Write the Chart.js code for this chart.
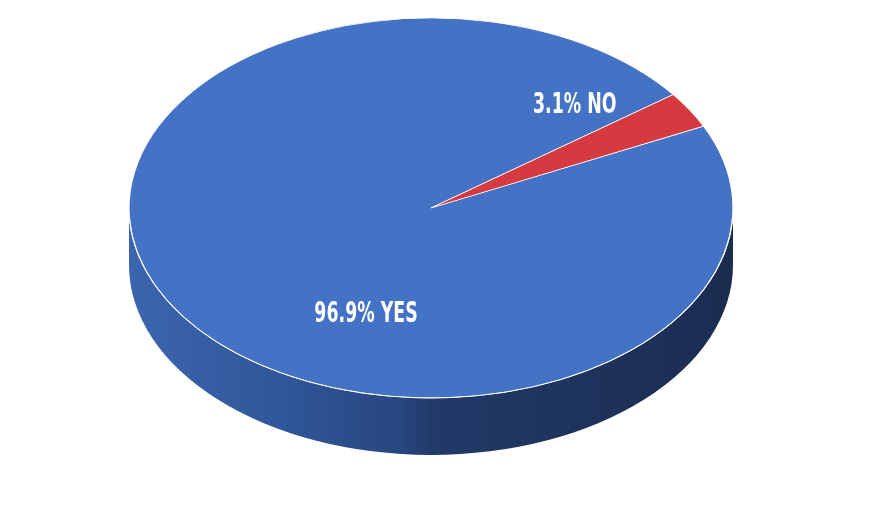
<!DOCTYPE html>
<html>
<head>
<meta charset="utf-8">
<script src="https://cdn.jsdelivr.net/npm/chart.js@4.4.1/dist/chart.umd.min.js"></script>
<style>
  html, body { margin: 0; padding: 0; background: #fff; }
  #wrap { width: 871px; height: 511px; position: relative; }
</style>
</head>
<body>
<div id="wrap"><canvas id="pie"></canvas></div>
<script>
// data
const labels = ['YES', 'NO'];
const values = [96.9, 3.1];
const sliceColors = ['#4472c4', '#d63a41'];

// where the flattened pie sits on the page (ellipse of the top face)
const top3d = { cx: 431, cy: 208, rx: 302, ry: 190, depth: 57 };
// label placement: [angle in degrees, fraction of radius]
const labelSpots = [[111, 0.60], [-48.6, 0.72]];

function pieFrame(chart) {
    const arc = chart.getDatasetMeta(0).data[0];
    return { x: arc.x, y: arc.y, r: arc.outerRadius };
}

const tilt = {
    id: 'tilt',
    beforeDatasetsDraw(chart) {
        const ctx = chart.ctx;
        const t = top3d;
        // side wall
        ctx.save();
        const g = ctx.createLinearGradient(t.cx - t.rx, 0, t.cx + t.rx, 0);
        g.addColorStop(0, '#3b65ae');
        g.addColorStop(0.25, '#30579a');
        g.addColorStop(0.45, '#28467f');
        g.addColorStop(0.5, '#213a68');
        g.addColorStop(1, '#1b2c50');
        ctx.beginPath();
        ctx.moveTo(t.cx - t.rx, t.cy);
        ctx.lineTo(t.cx - t.rx, t.cy + t.depth);
        ctx.ellipse(t.cx, t.cy + t.depth, t.rx, t.ry, 0, Math.PI, 0, true);
        ctx.lineTo(t.cx + t.rx, t.cy);
        ctx.ellipse(t.cx, t.cy, t.rx, t.ry, 0, 0, Math.PI, false);
        ctx.closePath();
        ctx.fillStyle = g;
        ctx.fill();
        ctx.restore();

        // squash the pie into the top face
        const f = pieFrame(chart);
        ctx.save();
        ctx.translate(t.cx, t.cy);
        ctx.scale(t.rx / f.r, t.ry / f.r);
        ctx.translate(-f.x, -f.y);
    },
    afterDatasetsDraw(chart) {
        const ctx = chart.ctx;
        ctx.restore();
        const t = top3d;
        // thin white rim on the front edge
        ctx.save();
        ctx.beginPath();
        ctx.ellipse(t.cx, t.cy, t.rx, t.ry, 0, 0.05, Math.PI - 0.05, false);
        ctx.strokeStyle = 'rgba(255,255,255,0.9)';
        ctx.lineWidth = 1;
        ctx.stroke();
        ctx.restore();

        // labels, condensed look
        labels.forEach((lab, i) => {
            const a = labelSpots[i][0] * Math.PI / 180;
            const k = labelSpots[i][1];
            const x = t.cx + Math.cos(a) * t.rx * k;
            const y = t.cy + Math.sin(a) * t.ry * k;
            ctx.save();
            ctx.translate(x, y);
            ctx.scale(0.6, 1);
            ctx.fillStyle = '#ffffff';
            ctx.font = 'bold 29px "DejaVu Sans", sans-serif';
            ctx.textAlign = 'center';
            ctx.textBaseline = 'middle';
            ctx.fillText(values[i].toFixed(1) + '% ' + lab, 0, 0);
            ctx.restore();
        });
    }
};

new Chart(document.getElementById('pie'), {
    type: 'pie',
    data: {
        labels: labels,
        datasets: [{
            data: values,
            backgroundColor: sliceColors,
            borderColor: '#ffffff',
            borderWidth: 1
        }]
    },
    options: {
        responsive: true,
        maintainAspectRatio: false,
        animation: false,
        rotation: 64.5,
        plugins: {
            legend: { display: false },
            tooltip: { enabled: false }
        }
    },
    plugins: [tilt]
});
</script>
</body>
</html>
